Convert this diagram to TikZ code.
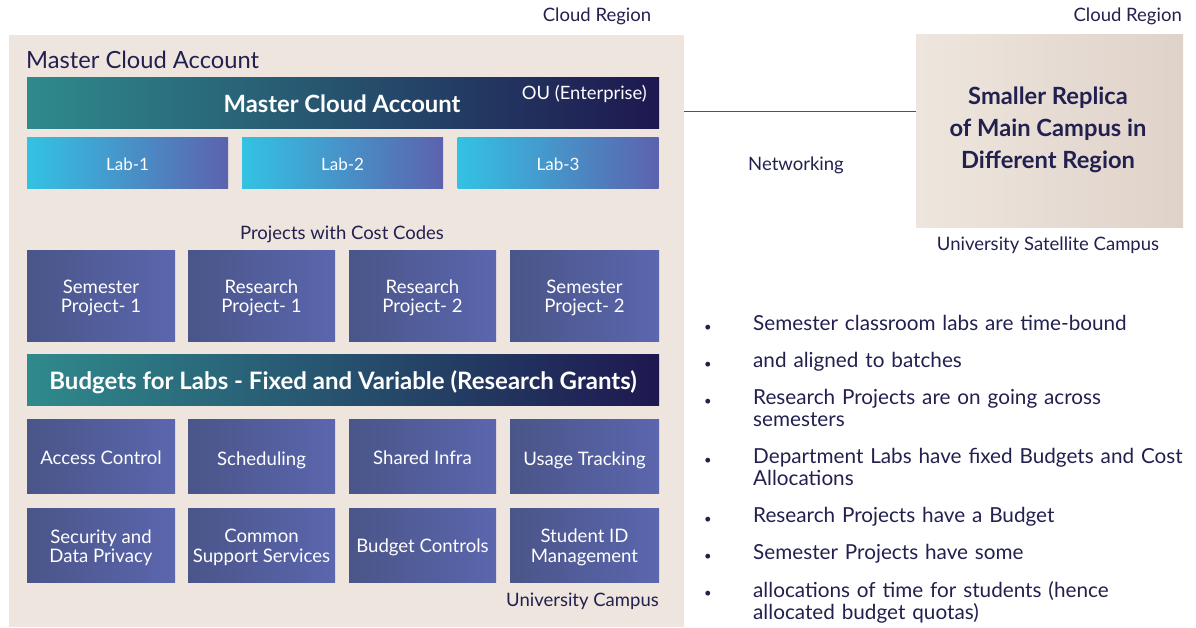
\documentclass[tikz,border=0pt]{standalone}
\usepackage{fontspec}
\setmainfont{Lato}
\usetikzlibrary{positioning}
\definecolor{navy}{HTML}{22204F}
\definecolor{bgbeige}{HTML}{EEE5DF}
\definecolor{tealL}{HTML}{2F8A8C}
\definecolor{navyR}{HTML}{1E1850}
\definecolor{cyanL}{HTML}{33C2E2}
\definecolor{labR}{HTML}{5C62AE}
\definecolor{boxL}{HTML}{4A5589}
\definecolor{boxR}{HTML}{5B66AE}
\definecolor{satL}{HTML}{EEE6DE}
\definecolor{satR}{HTML}{DFD2C9}
\tikzset{
  bar/.style={left color=tealL, right color=navyR, draw=none, minimum height=51pt, inner sep=0pt, text=white, font=\fontsize{24}{28}\selectfont\bfseries},
  labbox/.style={left color=cyanL, right color=labR, draw=none, minimum width=201pt, minimum height=51pt, inner sep=0pt, text=white, font=\fontsize{17}{20}\selectfont},
  tile/.style={left color=boxL, right color=boxR, draw=none, inner sep=0pt, text=white, align=center, font=\fontsize{18.6}{19.5}\selectfont},
  lbl/.style={text=navy, inner sep=0pt, font=\fontsize{18.5}{22}\selectfont},
  bul/.style={text=navy, inner sep=0pt, anchor=north west, align=left, text width=440pt, font=\fontsize{20.7}{22}\selectfont},
  dot/.style={text=navy, inner sep=0pt, anchor=base, font=\fontsize{13}{15}\selectfont}
}
\begin{document}
\begin{tikzpicture}[x=1pt,y=-1pt]
\useasboundingbox (0,0) rectangle (1196,627);
% main background
\fill[bgbeige] (9,35) rectangle (684,627);
\node[anchor=west, text=navy, inner sep=0pt, font=\fontsize{23.7}{28}\selectfont] (mtitle) at (26,60) {Master Cloud Account};
\node[lbl] (cr1) at (597,16) {Cloud Region};
\node[lbl, anchor=east] (cr2) at (1182,16) {Cloud Region};
% master bar
\node[bar, minimum width=632pt] (master) at (343,102.5) {};
\node[text=white, inner sep=0pt, font=\fontsize{23.8}{28}\selectfont\bfseries] (mastert) at (342,104) {Master Cloud Account};
\node[anchor=east, text=white, inner sep=0pt, font=\fontsize{18.4}{22}\selectfont] (ou) at (647,94) {OU (Enterprise)};
% labs
\node[labbox] (lab1) at (127.5,162.5) {};
\node[labbox] (lab2) at (342.5,162.5) {};
\node[labbox] (lab3) at (558,162.5) {};
\foreach \n/\t in {lab1/Lab-1, lab2/Lab-2, lab3/Lab-3}
  \node[text=white, inner sep=0pt, font=\fontsize{17}{20}\selectfont] (\n t) at ([yshift=-1.5pt]\n.center) {\t};
\node[lbl] (pcc) at (342,234) {Projects with Cost Codes};
% projects
\node[tile, minimum width=148pt, minimum height=91pt] (p1) at (101,295.5) {};
\node[tile, minimum width=147pt, minimum height=91pt] (p2) at (261.5,295.5) {};
\node[tile, minimum width=147pt, minimum height=91pt] (p3) at (422.5,295.5) {};
\node[tile, minimum width=149pt, minimum height=91pt] (p4) at (584.5,295.5) {};
\foreach \n/\t in {p1/{Semester\\Project- 1}, p2/{Research\\Project- 1}, p3/{Research\\Project- 2}, p4/{Semester\\Project- 2}}
  \node[text=white, inner sep=0pt, align=center, font=\fontsize{18.6}{19.5}\selectfont] (\n t) at ([yshift=-2.5pt]\n.center) {\t};
% budget bar
\node[bar, minimum width=632pt] (budget) at (343,379.5) {};
\node[text=white, inner sep=0pt, font=\fontsize{24}{28}\selectfont\bfseries] (budgett) at ([yshift=-2.5pt]budget.center) {Budgets for Labs - Fixed and Variable (Research Grants)};
% row 3
\node[tile, minimum width=148pt, minimum height=74pt] (r1) at (101,456) {};
\node[tile, minimum width=147pt, minimum height=74pt] (r2) at (261.5,456) {};
\node[tile, minimum width=147pt, minimum height=74pt] (r3) at (422.5,456) {};
\node[tile, minimum width=149pt, minimum height=74pt] (r4) at (584.5,456) {};
% row 4
\node[tile, minimum width=148pt, minimum height=74pt] (s1) at (101,545) {};
\node[tile, minimum width=147pt, minimum height=74pt] (s2) at (261.5,545) {};
\node[tile, minimum width=147pt, minimum height=74pt] (s3) at (422.5,545) {};
\node[tile, minimum width=149pt, minimum height=74pt] (s4) at (584.5,545) {};
\foreach \n/\t/\d in {r1/{Access Control}/2, r2/{Scheduling}/4.5, r3/{Shared Infra}/2, r4/{Usage Tracking}/4.5,
  s1/{Security and\\Data Privacy}/2.5, s2/{Common\\Support Services}/2.5, s3/{Budget Controls}/2.5, s4/{Student ID\\Management}/2.5}
  \node[text=white, inner sep=0pt, align=center, font=\fontsize{18.6}{19.5}\selectfont] (\n t) at ([yshift=-\d pt]\n.center) {\t};
\node[lbl, anchor=east] (uc) at (659,601.5) {University Campus};
% satellite
\node[left color=satL, right color=satR, draw=none, minimum width=267pt, minimum height=193pt, inner sep=0pt] (sat) at (1049.5,130.5) {};
\node[text=navy, inner sep=0pt, align=center, font=\fontsize{23.7}{32}\selectfont\bfseries] (satt) at (1048,130) {Smaller Replica\\of Main Campus in\\Different Region};
\node[lbl] (usc) at (1048,245) {University Satellite Campus};
% networking
\coordinate (nl) at (684,111);
\draw[navy!80, line width=0.9pt] (nl) -- (sat.west |- nl);
\node[lbl] (net) at (796,165) {Networking};
% bullets
\foreach \y/\t [count=\i] in {
  331/{Semester classroom labs are time-bound},
  368/{and aligned to batches},
  405/{Research Projects are on going across\\semesters},
  464/{Department Labs have fixed Budgets and Cost\\Allocations},
  523/{Research Projects have a Budget},
  560/{Semester Projects have some},
  597/{allocations of time for students (hence\\allocated budget quotas)}}{
  \node[dot] (d\i) at (708,\y) {\textbullet};
  \node[bul] (b\i) at (753,\y-15.5) {\t};
}
\end{tikzpicture}
\end{document}
